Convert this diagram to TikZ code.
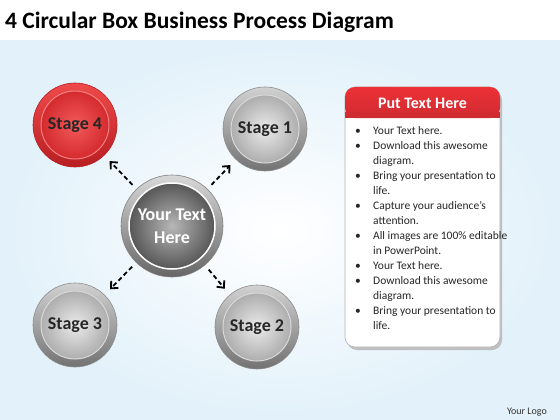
\documentclass[tikz,border=0pt]{standalone}
\usepackage{fontspec}
\setmainfont{Carlito}
\usetikzlibrary{arrows.meta}
\definecolor{bgblue}{HTML}{E2F1FA}
\definecolor{redtop}{HTML}{EF4A4A}
\definecolor{reddark}{HTML}{B81E22}
\definecolor{redface}{HTML}{F25A5A}
\definecolor{redfaceout}{HTML}{D42A2E}
\definecolor{hdrred}{HTML}{EC3137}
\begin{document}
\begin{tikzpicture}[x=1pt,y=-1pt,
  rimgray/.style={circle,inner sep=0,outer sep=0,minimum size=84,
    top color=black!18,bottom color=black!55,draw=black!45,line width=0.6},
  rimred/.style={circle,inner sep=0,outer sep=0,minimum size=84,
    top color=redtop,bottom color=reddark,draw=reddark,line width=0.6},
  facegray/.style={circle,inner sep=0,outer sep=0,minimum size=68,
    inner color=black!8,outer color=black!32,draw=white!85!black,line width=1,
    font=\bfseries\fontsize{18}{20}\selectfont,text=black!85},
  facered/.style={circle,inner sep=0,outer sep=0,minimum size=68,
    inner color=redface,outer color=redfaceout,draw=redtop!70!white,line width=1,
    font=\bfseries\fontsize{18}{20}\selectfont,text=black!85},
  rimcenter/.style={circle,inner sep=0,outer sep=0,minimum size=102,
    top color=black!15,bottom color=black!60,draw=black!50,line width=0.6},
  facecenter/.style={circle,inner sep=0,outer sep=0,minimum size=86,
    inner color=black!28,outer color=black!66,draw=white,line width=1.5,
    align=center,font=\bfseries\fontsize{18}{23}\selectfont,text=white},
  arr/.style={line width=1.8,dash pattern=on 4.5pt off 3pt,
    -{Straight Barb[length=5.5pt,width=10pt,line width=1.8]},
    shorten <=6pt,shorten >=8pt},
  listtxt/.style={anchor=north west,inner sep=0,align=left,
    font=\fontsize{11.5}{15}\selectfont,text=black!85}]
\useasboundingbox (0,0) rectangle (560,420);
% background
\fill[white] (0,0) rectangle (560,41);
\shade[inner color=white,outer color=bgblue] (0,41) rectangle (560,420);
% title
\node[anchor=base west,inner sep=0,font=\bfseries\fontsize{23.5}{26}\selectfont,text=black] (title) at (5,29) {4 Circular Box Business Process Diagram};
% circles
\node[rimcenter] (c) at (172,226) {};
\node[facecenter] (cf) at (c) {Your Text\\Here};
\node[rimred] (s4) at (75,125) {};
\node[facered] (s4f) at (s4) {Stage 4};
\node[rimgray] (s1) at (265,129) {};
\node[facegray] (s1f) at (s1) {Stage 1};
\node[rimgray] (s3) at (75,325) {};
\node[facegray] (s3f) at (s3) {Stage 3};
\node[rimgray] (s2) at (257,327) {};
\node[facegray] (s2f) at (s2) {Stage 2};
% arrows
\draw[arr] (c) -- (s4);
\draw[arr] (c) -- (s1);
\draw[arr] (c) -- (s3);
\draw[arr] (c) -- (s2);
% panel
\fill[black!25,rounded corners=10] (347,90) rectangle (502,350);
\draw[black!30,fill=white,rounded corners=10,line width=0.6] (345,87) rectangle (500,347);
\path[top color=hdrred,bottom color=hdrred!88!black,rounded corners=10]
  (345,118) -- (345,87) -- (500,87) -- (500,118) -- cycle;
\fill[hdrred!88!black] (345,112) rectangle (500,118);
\node[font=\bfseries\fontsize{16}{18}\selectfont,text=white] (hdr) at (422.5,103) {Put Text Here};
\node[listtxt] (list) at (355,124) {%
\begin{tabular}{@{}p{18pt}@{}l@{}}
\textbullet & Your Text here.\\
\textbullet & Download this awesome\\
 & diagram.\\
\textbullet & Bring your presentation to\\
 & life.\\
\textbullet & Capture your audience’s\\
 & attention.\\
\textbullet & All images are 100\% editable\\
 & in PowerPoint.\\
\textbullet & Your Text here.\\
\textbullet & Download this awesome\\
 & diagram.\\
\textbullet & Bring your presentation to\\
 & life.
\end{tabular}};
% logo
\node[anchor=base east,inner sep=0,font=\fontsize{10}{12}\selectfont,text=black!80] (logo) at (547,414) {Your Logo};
\end{tikzpicture}
\end{document}
